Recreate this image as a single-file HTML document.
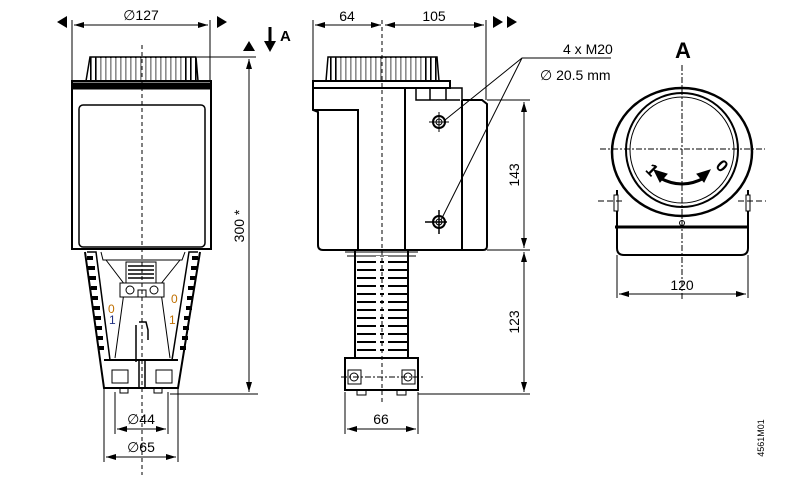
<!DOCTYPE html>
<html><head><meta charset="utf-8"><style>
html,body{margin:0;padding:0;background:#fff;}
svg{display:block;font-family:"Liberation Sans",sans-serif;}
</style></head><body>
<svg width="808" height="489" viewBox="0 0 808 489" xmlns="http://www.w3.org/2000/svg">
<defs>
<marker id="a" markerWidth="10" markerHeight="6" refX="10" refY="3" orient="auto-start-reverse" markerUnits="userSpaceOnUse"><path d="M0,0 L10,3 L0,6 Z" fill="#000"/></marker>
<pattern id="kn" width="5" height="30" patternUnits="userSpaceOnUse"><rect width="5" height="30" fill="#fff"/><rect width="1.6" height="30" fill="#000"/></pattern>
</defs>
<g stroke="#000" fill="none" stroke-width="1">
<!-- ===== LEFT VIEW ===== -->
<line x1="72" y1="20" x2="72" y2="82"/><line x1="210" y1="20" x2="210" y2="82"/>
<line x1="74" y1="25" x2="208" y2="25" marker-start="url(#a)" marker-end="url(#a)"/>
<path d="M57,22 L67,16 L67,28Z" fill="#000" stroke="none"/>
<path d="M227,22 L217,16 L217,28Z" fill="#000" stroke="none"/>
<path d="M90,57 L196,57 L198,81 L86,81Z" fill="url(#kn)" stroke-width="1.5"/>
<rect x="100" y="58" width="85" height="22" fill="#fff" stroke="none" opacity="0.55"/>
<rect x="72" y="81" width="139" height="168" stroke-width="2" fill="#fff"/>
<rect x="72" y="83" width="139" height="6" fill="#000"/>
<rect x="79" y="105" width="126" height="142" rx="4" stroke-width="1.5"/>
<path d="M85,252 L104,388 L178,388 L200,252" stroke-width="2"/>
<path d="M87,252 L96,252 L110,360 M198,252 L189,252 L172,360" stroke-width="1.5"/>
<g stroke-width="4">
<path d="M87,258 L93,258 M88,268 L95,268 M89,278 L96,278 M91,288 L97,288 M92,298 L98,298 M93,308 L100,308 M95,318 L101,318 M96,328 L102,328 M97,338 L103,338 M98,348 L104,348"/>
<path d="M192,258 L198,258 M191,268 L197,268 M190,278 L196,278 M188,288 L194,288 M187,298 L193,298 M186,308 L192,308 M184,318 L190,318 M183,328 L189,328 M182,338 L188,338 M180,348 L186,348"/>
</g>
<path d="M101,252 L103,260 L182,260 L185,252"/>
<path d="M106,260 L125,285 L115,358 M180,260 L160,285 L170,358"/>
<path d="M126,262 L156,262 L156,283 L126,283Z" fill="#fff"/>
<path d="M128,266h26 M128,270h26 M128,274h26 M128,278h26" stroke-width="1.5"/>
<rect x="120" y="283" width="44" height="14" fill="#fff"/>
<circle cx="130" cy="290" r="4"/><circle cx="154" cy="290" r="4"/>
<rect x="138" y="290" width="8" height="7"/>
<line x1="104" y1="360" x2="178" y2="360" stroke-width="2"/>
<rect x="112" y="370" width="16" height="13"/><rect x="156" y="370" width="16" height="13"/>
<rect x="139" y="360" width="6" height="28" stroke-width="1.5"/>
<rect x="120" y="388" width="8" height="5"/><rect x="154" y="388" width="8" height="5"/>
<path d="M136,325 L136,362 M139,322 L146,322 L148,330 L148,340" stroke-width="1.5"/>
<line x1="142" y1="45" x2="142" y2="475" stroke-dasharray="4,3"/>
<line x1="197" y1="57" x2="256" y2="57"/>
<line x1="170" y1="394" x2="258" y2="394"/>
<line x1="249" y1="59" x2="249" y2="392" marker-start="url(#a)" marker-end="url(#a)"/>
<path d="M249,41 L243,51 L255,51Z" fill="#000" stroke="none"/>
<path d="M270,27 L270,44" stroke-width="3"/><path d="M264,41 L276,41 L270,52Z" fill="#000" stroke="none"/>
<line x1="115" y1="392" x2="115" y2="434"/><line x1="168" y1="392" x2="168" y2="434"/>
<line x1="117" y1="429" x2="166" y2="429" marker-start="url(#a)" marker-end="url(#a)"/>
<line x1="104" y1="388" x2="104" y2="462"/><line x1="178" y1="388" x2="178" y2="462"/>
<line x1="106" y1="457" x2="176" y2="457" marker-start="url(#a)" marker-end="url(#a)"/>

<!-- ===== MIDDLE VIEW ===== -->
<line x1="313" y1="20" x2="313" y2="81"/><line x1="486" y1="20" x2="486" y2="100"/>
<line x1="315" y1="25" x2="381" y2="25" marker-start="url(#a)" marker-end="url(#a)"/>
<line x1="385" y1="25" x2="484" y2="25" marker-start="url(#a)" marker-end="url(#a)"/>
<path d="M493,16 L503,22 L493,28Z M507,16 L517,22 L507,28Z" fill="#000" stroke="none"/>
<path d="M328,57 L437,57 L439,81 L326,81Z" fill="url(#kn)" stroke-width="1.5"/>
<rect x="340" y="58" width="85" height="22" fill="#fff" stroke="none" opacity="0.55"/>
<path d="M313,81 L450,81 L450,88 L313,88Z" stroke-width="2" fill="#fff"/>
<path d="M313,88 L313,110 L318,112 L318,245 Q318,250 323,250 L405,250" stroke-width="2"/>
<path d="M313,110 L358,110 L358,250" stroke-width="2"/>
<path d="M405,88 L405,250 M405,250 L483,250 Q487,250 487,246 L487,104 L482,100 L462,100" stroke-width="2"/>
<path d="M462,100 L462,250" stroke-width="2"/>
<path d="M416,88 L416,100 L460,100 M430,88 L430,100 M446,88 L446,100 M450,88 L462,88 L462,100" stroke-width="1.5"/>
<circle cx="439" cy="122" r="6" stroke-width="2"/><circle cx="439" cy="122" r="3"/>
<path d="M429,122h20 M439,112v20"/>
<circle cx="439" cy="222" r="6" stroke-width="2"/><circle cx="439" cy="222" r="3"/>
<path d="M425,222h22 M439,210v24" stroke-width="1.5"/>
<path d="M355,250 L355,358 M408,250 L408,358" stroke-width="2"/>
<path d="M345,252 L418,252 M347,256 L416,256" />
<g stroke-width="2"><path d="M357,262h50 M357,270h50 M357,278h50 M357,286h50 M357,294h50 M357,302h50 M357,310h50 M357,318h50 M357,326h50 M357,334h50 M357,342h50 M357,350h50"/></g>
<path d="M378,256 L378,358 M386,256 L386,358" stroke="#fff" stroke-width="4"/>
<path d="M345,358 L418,358 L418,390 L345,390Z" stroke-width="2" fill="#fff"/>
<rect x="348" y="370" width="13" height="14"/><circle cx="354" cy="377" r="4"/>
<rect x="402" y="370" width="13" height="14"/><circle cx="408" cy="377" r="4"/>
<line x1="341" y1="377" x2="423" y2="377" stroke-dasharray="6,2,2,2"/>
<rect x="357" y="390" width="9" height="5"/><rect x="397" y="390" width="9" height="5"/>
<line x1="382" y1="20" x2="382" y2="402" stroke-dasharray="4,3"/>
<line x1="487" y1="100" x2="530" y2="100"/><line x1="487" y1="250" x2="530" y2="250"/>
<line x1="418" y1="394" x2="530" y2="394"/>
<line x1="524" y1="102" x2="524" y2="248" marker-start="url(#a)" marker-end="url(#a)"/>
<line x1="524" y1="252" x2="524" y2="392" marker-start="url(#a)" marker-end="url(#a)"/>
<line x1="345" y1="392" x2="345" y2="434"/><line x1="418" y1="392" x2="418" y2="434"/>
<line x1="347" y1="429" x2="416" y2="429" marker-start="url(#a)" marker-end="url(#a)"/>
<path d="M611,58 L522,58 L445,120 M522,58 L441,220"/>

<!-- ===== RIGHT VIEW A ===== -->
<path d="M617,190 L617,248 Q617,255 624,255 L741,255 Q748,255 748,248 L748,190" stroke-width="2"/>
<rect x="614" y="195" width="4" height="16" fill="#fff"/><rect x="746" y="195" width="4" height="16" fill="#fff"/>
<ellipse cx="682" cy="152" rx="70" ry="64" stroke-width="2.5" fill="#fff"/>
<ellipse cx="682" cy="150" rx="56" ry="57" stroke-width="2"/>
<ellipse cx="682" cy="150" rx="52" ry="53"/>
<line x1="615" y1="227" x2="749" y2="227" stroke-width="3"/>
<circle cx="682" cy="223" r="2.5"/>
<line x1="682" y1="65" x2="682" y2="300" stroke-dasharray="6,2,2,2"/>
<line x1="600" y1="149" x2="765" y2="149" stroke-dasharray="6,2,2,2"/>
<line x1="598" y1="201" x2="625" y2="201" stroke-dasharray="6,3"/>
<line x1="738" y1="201" x2="766" y2="201" stroke-dasharray="6,3"/>
<path d="M660,178 Q682,190 704,178" stroke-width="3"/>
<path d="M654,170 L667,174 L660,182Z M710,170 L697,174 L704,182Z" fill="#000"/>
<line x1="617" y1="255" x2="617" y2="298"/><line x1="748" y1="255" x2="748" y2="298"/>
<line x1="619" y1="294" x2="746" y2="294" marker-start="url(#a)" marker-end="url(#a)"/>
</g>
<g font-size="14" fill="#000">
<text x="141" y="20" text-anchor="middle">∅127</text>
<text x="280" y="41" font-weight="bold" font-size="15">A</text>
<text transform="translate(244,226) rotate(-90)" text-anchor="middle">300 *</text>
<text x="108" y="313" font-size="12" fill="#c07000">0</text><text x="109" y="324" font-size="12" fill="#203080">1</text>
<text x="171" y="303" font-size="12" fill="#c07000">0</text><text x="169" y="324" font-size="12" fill="#c07000">1</text>
<text x="141" y="424" text-anchor="middle">∅44</text>
<text x="141" y="452" text-anchor="middle">∅65</text>
<text x="347" y="21" text-anchor="middle">64</text>
<text x="434" y="21" text-anchor="middle">105</text>
<text x="563" y="54">4 x M20</text>
<text x="540" y="80">∅ 20.5 mm</text>
<text transform="translate(519,175) rotate(-90)" text-anchor="middle">143</text>
<text transform="translate(519,322) rotate(-90)" text-anchor="middle">123</text>
<text x="381" y="424" text-anchor="middle">66</text>
<text x="683" y="58" text-anchor="middle" font-weight="bold" font-size="22">A</text>
<text transform="translate(648,174) rotate(45)" font-size="17" font-weight="bold" text-anchor="middle">1</text>
<text transform="translate(718,170) rotate(45)" font-size="17" font-weight="bold" text-anchor="middle">0</text>
<text x="682" y="290" text-anchor="middle">120</text>
<text transform="translate(764,438) rotate(-90)" font-size="9" text-anchor="middle">4561M01</text>
</g>
</svg>
</body></html>
